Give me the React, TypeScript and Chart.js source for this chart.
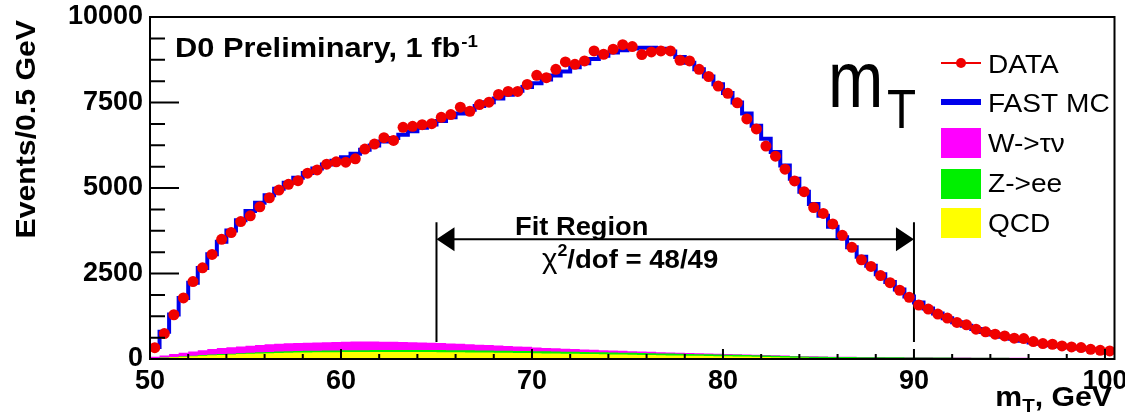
import { useEffect, useRef } from 'react';
import { Chart, registerables } from 'chart.js';

Chart.register(...registerables);

// ---------------- data ----------------
const X_MIN = 50;
const X_MAX = 100.5;
const BIN_WIDTH = 0.5;
const X_TICKS = [50, 60, 70, 80, 90, 100];
const Y_TICKS = [0, 2500, 5000, 7500, 10000];

// events per 0.5 GeV bin, bins starting at 50 GeV
const DATA = [
  330, 745, 1294, 1785, 2265, 2667, 3058, 3500, 3697, 4020,
  4186, 4450, 4715, 4941, 5108, 5215, 5432, 5529, 5697, 5764,
  5755, 5853, 6138, 6285, 6470, 6390, 6773, 6803, 6853, 6882,
  7068, 7147, 7362, 7244, 7441, 7509, 7735, 7823, 7823, 8029,
  8294, 8225, 8470, 8685, 8617, 8714, 9008, 8911, 9058, 9190,
  9137, 8900, 8979, 9008, 9008, 8735, 8714, 8470, 8260, 7979,
  7770, 7490, 7020, 6726, 6225, 5930, 5550, 5206, 4891, 4430,
  4255, 3950, 3617, 3265, 2900, 2706, 2440, 2230, 2010, 1803,
  1579, 1461, 1314, 1197, 1068, 1000, 873, 794, 726, 676,
  608, 598, 510, 451, 431, 382, 353, 333, 284, 255, 235,
];

const FAST_MC = [
  350, 800, 1300, 1780, 2230, 2660, 3060, 3430, 3760, 4060,
  4330, 4570, 4790, 4980, 5150, 5300, 5440, 5570, 5690, 5800,
  5900, 6000, 6120, 6240, 6360, 6460, 6560, 6660, 6760, 6860,
  6960, 7070, 7180, 7290, 7400, 7510, 7620, 7730, 7840, 7950,
  8060, 8170, 8290, 8410, 8530, 8650, 8770, 8870, 8960, 9030,
  9080, 9100, 9100, 9070, 8990, 8830, 8660, 8470, 8260, 8030,
  7780, 7500, 7180, 6820, 6440, 6050, 5660, 5270, 4890, 4530,
  4190, 3870, 3560, 3270, 2990, 2730, 2480, 2250, 2030, 1830,
  1650, 1480, 1330, 1195, 1075, 970, 875, 790, 715, 650,
  590, 535, 485, 445, 405, 370, 340, 310, 285, 260, 240,
];

const W_TAU = [
  40, 62, 84, 106, 126, 145, 162, 176, 188, 198,
  207, 215, 222, 228, 233, 237, 240, 243, 245, 248,
  248, 252, 250, 248, 245, 241, 236, 230, 223, 215,
  206, 197, 188, 178, 169, 160, 150, 141, 132, 123,
  106, 99, 92, 85, 79, 73, 67, 62, 57, 52,
  48, 44, 40, 37, 34, 31, 28, 26, 24, 22,
  20, 18, 17, 15, 14, 13, 12, 11, 10, 9,
  8, 8, 7, 7, 6, 6, 5, 5, 5, 4,
  4, 4, 4, 3, 3, 3, 3, 3, 2, 2,
  2, 2, 2, 2, 2, 2, 1, 1, 1, 1, 1,
];

const Z_EE = [
  5, 8, 10, 13, 16, 19, 21, 23, 25, 27,
  30, 33, 36, 39, 42, 44, 46, 48, 50, 52,
  53, 54, 55, 56, 57, 58, 58, 59, 59, 60,
  60, 60, 60, 60, 60, 60, 60, 60, 60, 60,
  60, 60, 59, 59, 58, 58, 57, 57, 56, 56,
  55, 55, 54, 54, 53, 52, 51, 50, 49, 48,
  47, 46, 45, 44, 43, 42, 41, 40, 39, 38,
  37, 36, 35, 34, 33, 32, 31, 30, 29, 28,
  27, 26, 25, 24, 23, 22, 21, 20, 19, 18,
  17, 16, 15, 14, 13, 12, 11, 10, 10, 10, 9,
];

const QCD = [
  20, 35, 50, 65, 80, 95, 108, 120, 132, 143,
  153, 162, 170, 177, 183, 188, 192, 195, 198, 200,
  202, 203, 204, 205, 205, 205, 205, 204, 203, 202,
  200, 198, 196, 193, 190, 187, 184, 180, 176, 172,
  168, 164, 160, 156, 152, 148, 144, 140, 135, 130,
  125, 120, 115, 110, 105, 100, 96, 92, 88, 84,
  80, 75, 70, 64, 58, 52, 46, 40, 35, 30,
  27, 25, 23, 22, 21, 20, 20, 19, 19, 18,
  18, 18, 17, 17, 17, 16, 16, 16, 16, 15,
  15, 15, 15, 15, 14, 14, 14, 14, 14, 13, 13,
];

const FIT_RANGE = [65, 90];
const FIT_ARROW_Y = 3500;
const FIT_LINE_Y = [500, 4000];

const LEGEND_LABELS = ['DATA', 'FAST MC', 'W->τν', 'Z->ee', 'QCD'];

// ---------------- helpers ----------------
const FONT = 'Liberation Sans, Arial, sans-serif';
const RED = 'rgb(240,0,0)';
const BLUE = 'rgb(0,0,235)';
const MAGENTA = 'rgb(255,0,255)';
const GREEN = 'rgb(0,240,0)';
const YELLOW = 'rgb(255,255,0)';

const stepPoints = (vals: number[]) =>
  vals.flatMap((v, i) => [
    { x: X_MIN + i * BIN_WIDTH, y: v },
    { x: X_MIN + (i + 1) * BIN_WIDTH, y: v },
  ]);

const QCD_Z = QCD.map((q, i) => q + Z_EE[i]);
const BKG_TOTAL = QCD_Z.map((v, i) => v + W_TAU[i]);

// draws text with horizontal stretch, returns drawn width
function txt(ctx: CanvasRenderingContext2D, s: string, x: number, y: number, font: string, sx = 1): number {
  ctx.save();
  ctx.translate(x, y);
  ctx.scale(sx, 1);
  ctx.font = font;
  ctx.textAlign = 'left';
  ctx.textBaseline = 'alphabetic';
  ctx.fillText(s, 0, 0);
  const w = ctx.measureText(s).width * sx;
  ctx.restore();
  return w;
}
function txtWidth(ctx: CanvasRenderingContext2D, s: string, font: string, sx = 1): number {
  ctx.save();
  ctx.font = font;
  const w = ctx.measureText(s).width * sx;
  ctx.restore();
  return w;
}

const decorPlugin = {
  id: 'decor',
  beforeDatasetsDraw(chart: any) {
    const { ctx, scales } = chart;
    const x = scales.x;
    const y = scales.y;
    const x1 = x.getPixelForValue(FIT_RANGE[0]);
    const x2 = x.getPixelForValue(FIT_RANGE[1]);
    const ya = y.getPixelForValue(FIT_ARROW_Y);
    const yl1 = y.getPixelForValue(FIT_LINE_Y[0]);
    const yl2 = y.getPixelForValue(FIT_LINE_Y[1]);
    ctx.save();
    ctx.strokeStyle = '#000';
    ctx.fillStyle = '#000';
    ctx.lineWidth = 2;
    ctx.beginPath();
    ctx.moveTo(x1, yl1); ctx.lineTo(x1, yl2);
    ctx.moveTo(x2, yl1); ctx.lineTo(x2, yl2);
    ctx.moveTo(x1 + 10, ya); ctx.lineTo(x2 - 10, ya);
    ctx.stroke();
    ctx.beginPath();
    ctx.moveTo(x1, ya); ctx.lineTo(x1 + 18, ya - 12); ctx.lineTo(x1 + 18, ya + 12); ctx.closePath();
    ctx.moveTo(x2, ya); ctx.lineTo(x2 - 18, ya - 12); ctx.lineTo(x2 - 18, ya + 12); ctx.closePath();
    ctx.fill();

    // Fit region text
    ctx.fillStyle = '#000';
    txt(ctx, 'Fit Region', 515, 235, `bold 26px ${FONT}`, 1.05);
    let tx = 542;
    const ty = 268;
    tx += txt(ctx, 'χ', tx, ty, `28px ${FONT}`, 1.05);
    tx += txt(ctx, '2', tx, ty - 12, `bold 17px ${FONT}`, 1.05);
    txt(ctx, '/dof = 48/49', tx, ty, `bold 26px ${FONT}`, 1.06);
    ctx.restore();
  },
  afterDraw(chart: any) {
    const { ctx, chartArea, scales } = chart;
    const x = scales.x;
    const y = scales.y;
    const { left, right, top, bottom } = chartArea;
    ctx.save();
    // frame
    ctx.strokeStyle = '#000';
    ctx.lineWidth = 2;
    ctx.strokeRect(left, top, right - left, bottom - top);
    // y ticks
    ctx.beginPath();
    for (let k = 0; k < Y_TICKS.length; k++) {
      const py = y.getPixelForValue(Y_TICKS[k]);
      ctx.moveTo(left, py); ctx.lineTo(left + 29, py);
      if (k < Y_TICKS.length - 1) {
        const step = (Y_TICKS[k + 1] - Y_TICKS[k]) / 4;
        for (let m = 1; m < 4; m++) {
          const pm = y.getPixelForValue(Y_TICKS[k] + m * step);
          ctx.moveTo(left, pm); ctx.lineTo(left + 15, pm);
        }
      }
    }
    // x ticks
    for (let k = 0; k < X_TICKS.length; k++) {
      const px = x.getPixelForValue(X_TICKS[k]);
      ctx.moveTo(px, bottom); ctx.lineTo(px, bottom - 10);
      if (k < X_TICKS.length - 1) {
        const step = (X_TICKS[k + 1] - X_TICKS[k]) / 5;
        for (let m = 1; m < 5; m++) {
          const pm = x.getPixelForValue(X_TICKS[k] + m * step);
          ctx.moveTo(pm, bottom); ctx.lineTo(pm, bottom - 5);
        }
      }
    }
    ctx.stroke();

    ctx.fillStyle = '#000';
    // top-left label
    const w0 = txt(ctx, 'D0 Preliminary, 1 fb', 175, 57, `bold 28px ${FONT}`, 1.1);
    txt(ctx, '-1', 175 + w0 + 1, 47, `bold 17px ${FONT}`, 1.1);

    // big m_T
    txt(ctx, 'm', 828, 107, `80px ${FONT}`, 0.83);
    txt(ctx, 'T', 887, 128, `56px ${FONT}`, 0.85);

    // y axis title
    ctx.save();
    ctx.translate(35, 20);
    ctx.rotate(-Math.PI / 2);
    const fy = `bold 28px ${FONT}`;
    const wy = txtWidth(ctx, 'Events/0.5 GeV', fy, 1.08);
    txt(ctx, 'Events/0.5 GeV', -wy, 0, fy, 1.08);
    ctx.restore();

    // x axis title  (m_T, GeV) right aligned
    const fBig = `bold 28px ${FONT}`;
    const fSub = `bold 19px ${FONT}`;
    const sxT = 1.08;
    const wTail = txtWidth(ctx, ', GeV', fBig, sxT);
    const wm = txtWidth(ctx, 'm', fBig, sxT);
    const wT = txtWidth(ctx, 'T', fSub, sxT);
    const base = 406;
    let sx = 1112 - wTail - wT - wm;
    sx += txt(ctx, 'm', sx, base, fBig, sxT);
    sx += txt(ctx, 'T', sx, base + 6, fSub, sxT);
    txt(ctx, ', GeV', sx, base, fBig, sxT);

    // legend
    const lx = 941;
    const tX = 988;
    const fL = `26px ${FONT}`;
    const sL = 1.08;
    // DATA
    ctx.strokeStyle = RED;
    ctx.lineWidth = 2;
    ctx.beginPath(); ctx.moveTo(lx, 63); ctx.lineTo(lx + 40, 63); ctx.stroke();
    ctx.fillStyle = RED;
    ctx.beginPath(); ctx.arc(lx + 20, 63, 5, 0, Math.PI * 2); ctx.fill();
    ctx.fillStyle = '#000';
    txt(ctx, LEGEND_LABELS[0], tX, 73, fL, sL);
    // FAST MC
    ctx.strokeStyle = BLUE;
    ctx.lineWidth = 6;
    ctx.beginPath(); ctx.moveTo(lx, 102); ctx.lineTo(lx + 40, 102); ctx.stroke();
    txt(ctx, LEGEND_LABELS[1], tX, 112, fL, sL);
    // boxes
    const boxes = [
      { c: MAGENTA, y: 128, t: LEGEND_LABELS[2], b: 152 },
      { c: GREEN, y: 169, t: LEGEND_LABELS[3], b: 192 },
      { c: YELLOW, y: 208, t: LEGEND_LABELS[4], b: 232 },
    ];
    for (const bx of boxes) {
      ctx.fillStyle = bx.c;
      ctx.fillRect(lx, bx.y, 40, 30);
      ctx.fillStyle = '#000';
      txt(ctx, bx.t, tX, bx.b, fL, sL);
    }
    ctx.restore();
  },
};

export default function App() {
  const canvasRef = useRef<HTMLCanvasElement | null>(null);

  useEffect(() => {
    document.body.style.margin = '0';
    const canvas = canvasRef.current;
    if (!canvas) return;
    Chart.defaults.font.family = FONT;
    Chart.defaults.color = '#000';

    const chart = new Chart(canvas, {
      type: 'line',
      data: {
        datasets: [
          {
            label: 'DATA',
            data: DATA.map((v, i) => ({ x: X_MIN + (i + 0.5) * BIN_WIDTH, y: v })),
            showLine: false,
            pointRadius: 5.5,
            pointBackgroundColor: RED,
            pointBorderWidth: 0,
            borderColor: RED,
            order: 1,
          },
          {
            label: 'FAST MC',
            data: stepPoints(FAST_MC),
            borderColor: BLUE,
            borderWidth: 4,
            pointRadius: 0,
            fill: false,
            tension: 0,
            order: 2,
          },
          {
            label: 'QCD',
            data: stepPoints(QCD),
            borderWidth: 0,
            pointRadius: 0,
            backgroundColor: YELLOW,
            fill: 'origin',
            order: 3,
          },
          {
            label: 'Z->ee',
            data: stepPoints(QCD_Z),
            borderWidth: 0,
            pointRadius: 0,
            backgroundColor: GREEN,
            fill: 'origin',
            order: 4,
          },
          {
            label: 'W->τν',
            data: stepPoints(BKG_TOTAL),
            borderWidth: 0,
            pointRadius: 0,
            backgroundColor: MAGENTA,
            fill: 'origin',
            order: 5,
          },
        ],
      },
      options: {
        animation: false,
        responsive: false,
        events: [],
        layout: { padding: { left: 0, right: 10.5, top: 17, bottom: 0 } },
        plugins: {
          legend: { display: false },
          tooltip: { enabled: false },
        },
        scales: {
          x: {
            type: 'linear',
            min: X_MIN,
            max: X_MAX,
            grid: { display: false, drawTicks: false },
            border: { display: false },
            afterBuildTicks: (s: any) => {
              s.ticks = X_TICKS.map((v) => ({ value: v }));
            },
            afterFit: (s: any) => {
              s.height = 58;
              s.paddingLeft = 0;
              s.paddingRight = 0;
            },
            ticks: {
              autoSkip: false,
              maxRotation: 0,
              padding: 6,
              font: { size: 27, weight: 'bold', family: FONT },
              color: '#000',
            },
          },
          y: {
            type: 'linear',
            min: 0,
            max: 10000,
            grid: { display: false, drawTicks: false },
            border: { display: false },
            afterBuildTicks: (s: any) => {
              s.ticks = Y_TICKS.map((v) => ({ value: v }));
            },
            afterFit: (s: any) => {
              s.width = 150;
              s.paddingTop = 0;
              s.paddingBottom = 0;
            },
            ticks: {
              autoSkip: false,
              padding: 7,
              font: { size: 27, weight: 'bold', family: FONT },
              color: '#000',
              callback: (v: any) => String(v),
            },
          },
        },
      },
      plugins: [decorPlugin],
    });

    return () => chart.destroy();
  }, []);

  return (
    <div style={{ position: 'fixed', left: 0, top: 0, width: 1125, height: 417, background: '#fff' }}>
      <canvas ref={canvasRef} width={1125} height={417} style={{ width: 1125, height: 417 }} />
    </div>
  );
}
